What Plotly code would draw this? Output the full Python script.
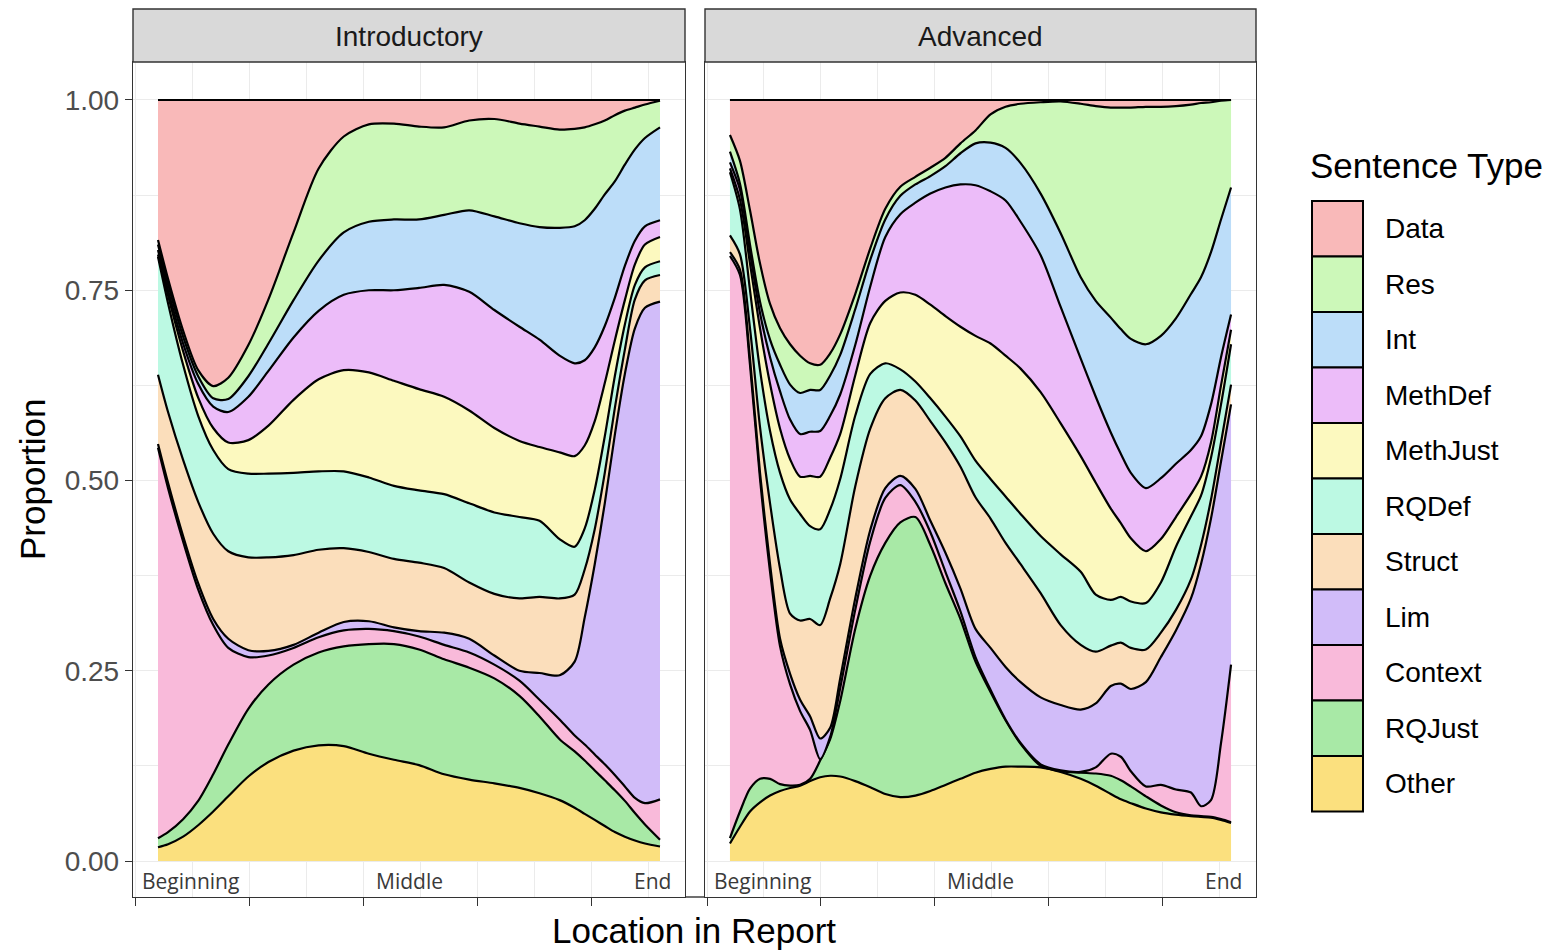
import numpy as np
import plotly.graph_objects as go

# ---------------- data (upper edge of each stacked layer) ----------------
X_INTRO = [0, 0.02, 0.05, 0.08, 0.11, 0.14, 0.18, 0.22, 0.27, 0.32, 0.37, 0.42, 0.47, 0.52, 0.57,
           0.62, 0.67, 0.72, 0.76, 0.8, 0.83, 0.85, 0.87, 0.89, 0.91, 0.93, 0.95, 0.97, 1.0]

INTRO_RES_TOP = [0.816, 0.765, 0.697, 0.645, 0.624, 0.635, 0.678, 0.738, 0.826, 0.91, 0.952, 0.968, 0.969, 0.965, 0.964,
                 0.973, 0.975, 0.969, 0.965, 0.961, 0.962, 0.964, 0.968, 0.973, 0.98, 0.986, 0.99, 0.994, 0.999]
INTRO_INT_TOP = [0.81, 0.758, 0.689, 0.637, 0.608, 0.607, 0.637, 0.68, 0.737, 0.789, 0.826, 0.84, 0.843, 0.843, 0.849,
                 0.855, 0.847, 0.838, 0.833, 0.832, 0.834, 0.842, 0.857, 0.876, 0.893, 0.915, 0.935, 0.95, 0.964]
INTRO_METHDEF_TOP = [0.803, 0.75, 0.68, 0.627, 0.597, 0.59, 0.61, 0.644, 0.688, 0.723, 0.744, 0.75, 0.75, 0.753, 0.757,
                     0.748, 0.724, 0.702, 0.685, 0.664, 0.654, 0.658, 0.675, 0.703, 0.74, 0.782, 0.815, 0.834, 0.842]
INTRO_METHJUST_TOP = [0.797, 0.743, 0.67, 0.609, 0.569, 0.55, 0.553, 0.572, 0.606, 0.633, 0.645, 0.642, 0.631, 0.62, 0.61,
                      0.592, 0.569, 0.552, 0.544, 0.537, 0.532, 0.546, 0.578, 0.628, 0.684, 0.737, 0.784, 0.81, 0.82]
INTRO_RQDEF_TOP = [0.794, 0.733, 0.652, 0.585, 0.54, 0.515, 0.509, 0.509, 0.51, 0.512, 0.512, 0.504, 0.493, 0.487, 0.482,
                   0.47, 0.458, 0.452, 0.447, 0.423, 0.413, 0.437, 0.488, 0.558, 0.637, 0.705, 0.757, 0.78, 0.788]
INTRO_STRUCT_TOP = [0.639, 0.59, 0.527, 0.472, 0.43, 0.407, 0.399, 0.399, 0.402, 0.409, 0.411, 0.406, 0.397, 0.392, 0.385,
                    0.366, 0.351, 0.345, 0.347, 0.345, 0.35, 0.383, 0.436, 0.51, 0.595, 0.672, 0.738, 0.763, 0.77]
INTRO_LIM_TOP = [0.548, 0.497, 0.427, 0.365, 0.318, 0.292, 0.277, 0.276, 0.284, 0.3, 0.314, 0.315, 0.307, 0.302, 0.3,
                 0.292, 0.27, 0.25, 0.247, 0.244, 0.262, 0.32, 0.39, 0.47, 0.56, 0.64, 0.7, 0.727, 0.735]
INTRO_CONTEXT_TOP = [0.543, 0.49, 0.42, 0.357, 0.31, 0.28, 0.268, 0.27, 0.28, 0.294, 0.303, 0.305, 0.302, 0.295, 0.284,
                     0.274, 0.258, 0.237, 0.212, 0.186, 0.165, 0.153, 0.14, 0.127, 0.113, 0.098, 0.083, 0.076, 0.081]
INTRO_RQJUST_TOP = [0.03, 0.038, 0.055, 0.079, 0.114, 0.153, 0.2, 0.232, 0.258, 0.274, 0.282, 0.285, 0.285, 0.278, 0.265,
                    0.254, 0.24, 0.217, 0.19, 0.16, 0.144, 0.132, 0.119, 0.106, 0.093, 0.079, 0.063, 0.048, 0.028]
INTRO_OTHER_TOP = [0.018, 0.022, 0.032, 0.047, 0.065, 0.085, 0.111, 0.13, 0.145, 0.152, 0.151, 0.141, 0.133, 0.126, 0.114,
                   0.107, 0.102, 0.096, 0.089, 0.08, 0.07, 0.062, 0.054, 0.046, 0.038, 0.032, 0.027, 0.023, 0.019]

X_ADV = [0, 0.02, 0.04, 0.06, 0.08, 0.1, 0.12, 0.14, 0.16, 0.18, 0.2, 0.22, 0.25, 0.28, 0.31, 0.34, 0.37, 0.4, 0.43,
         0.46, 0.49, 0.52, 0.55, 0.58, 0.62, 0.66, 0.7, 0.73, 0.76, 0.78, 0.8, 0.83, 0.86, 0.89, 0.92, 0.94, 0.96, 0.98, 1.0]

ADV_RES_TOP = [0.954, 0.92, 0.855, 0.785, 0.732, 0.7, 0.679, 0.664, 0.654, 0.652, 0.667, 0.692, 0.745, 0.805, 0.857, 0.886,
               0.899, 0.911, 0.924, 0.943, 0.96, 0.981, 0.991, 0.995, 0.997, 0.998, 0.995, 0.992, 0.99, 0.99, 0.99, 0.991,
               0.991, 0.992, 0.994, 0.996, 0.997, 0.999, 1.0]
ADV_INT_TOP = [0.932, 0.89, 0.81, 0.735, 0.685, 0.652, 0.626, 0.615, 0.619, 0.619, 0.638, 0.665, 0.725, 0.79, 0.843, 0.874,
               0.889, 0.9, 0.913, 0.93, 0.943, 0.944, 0.937, 0.917, 0.877, 0.825, 0.767, 0.736, 0.714, 0.699, 0.686, 0.679,
               0.69, 0.713, 0.745, 0.767, 0.8, 0.843, 0.885]
ADV_METHDEF_TOP = [0.918, 0.882, 0.8, 0.72, 0.662, 0.617, 0.58, 0.561, 0.564, 0.565, 0.585, 0.613, 0.678, 0.755, 0.82, 0.85,
                   0.865, 0.877, 0.885, 0.889, 0.888, 0.88, 0.868, 0.84, 0.796, 0.728, 0.66, 0.61, 0.563, 0.535, 0.51, 0.49,
                   0.503, 0.522, 0.54, 0.558, 0.6, 0.662, 0.718]
ADV_METHJUST_TOP = [0.91, 0.869, 0.785, 0.7, 0.627, 0.568, 0.528, 0.505, 0.506, 0.505, 0.53, 0.561, 0.638, 0.707, 0.736,
                    0.747, 0.744, 0.731, 0.716, 0.702, 0.69, 0.68, 0.664, 0.647, 0.616, 0.575, 0.532, 0.497, 0.463, 0.444,
                    0.424, 0.407, 0.423, 0.452, 0.482, 0.505, 0.55, 0.625, 0.698]
ADV_RQDEF_TOP = [0.905, 0.856, 0.75, 0.645, 0.565, 0.51, 0.475, 0.456, 0.44, 0.436, 0.462, 0.502, 0.585, 0.64, 0.654, 0.646,
                 0.63, 0.608, 0.584, 0.558, 0.526, 0.502, 0.479, 0.456, 0.427, 0.403, 0.38, 0.35, 0.343, 0.347, 0.341,
                 0.339, 0.366, 0.413, 0.453, 0.48, 0.53, 0.6, 0.679]
ADV_STRUCT_TOP = [0.822, 0.797, 0.7, 0.57, 0.47, 0.384, 0.325, 0.316, 0.318, 0.31, 0.345, 0.39, 0.492, 0.568, 0.608, 0.619,
                  0.605, 0.578, 0.55, 0.518, 0.478, 0.45, 0.418, 0.39, 0.352, 0.31, 0.284, 0.275, 0.283, 0.287, 0.28,
                  0.278, 0.3, 0.33, 0.37, 0.415, 0.475, 0.55, 0.626]
ADV_LIM_TOP = [0.8, 0.777, 0.66, 0.51, 0.39, 0.292, 0.246, 0.212, 0.19, 0.161, 0.175, 0.24, 0.345, 0.435, 0.49, 0.506,
               0.489, 0.447, 0.405, 0.358, 0.305, 0.28, 0.255, 0.235, 0.215, 0.205, 0.199, 0.207, 0.23, 0.233, 0.226,
               0.235, 0.268, 0.303, 0.345, 0.39, 0.45, 0.525, 0.6]
ADV_CONTEXT_TOP = [0.795, 0.77, 0.652, 0.502, 0.38, 0.282, 0.232, 0.197, 0.172, 0.134, 0.163, 0.227, 0.33, 0.42, 0.477,
                   0.494, 0.472, 0.432, 0.38, 0.328, 0.268, 0.225, 0.186, 0.155, 0.127, 0.119, 0.117, 0.123, 0.141, 0.137,
                   0.118, 0.098, 0.1, 0.094, 0.09, 0.072, 0.08, 0.155, 0.258]
ADV_RQJUST_TOP = [0.03, 0.065, 0.095, 0.108, 0.108, 0.101, 0.099, 0.1, 0.108, 0.132, 0.16, 0.21, 0.305, 0.375, 0.418,
                  0.445, 0.452, 0.415, 0.365, 0.318, 0.262, 0.222, 0.185, 0.154, 0.125, 0.118, 0.116, 0.115, 0.112, 0.106,
                  0.098, 0.085, 0.073, 0.064, 0.06, 0.059, 0.058, 0.055, 0.051]
ADV_OTHER_TOP = [0.023, 0.045, 0.065, 0.077, 0.086, 0.092, 0.096, 0.099, 0.105, 0.11, 0.112, 0.111, 0.105, 0.097, 0.088,
                 0.084, 0.086, 0.092, 0.1, 0.108, 0.116, 0.121, 0.124, 0.124, 0.123, 0.117, 0.108, 0.099, 0.088, 0.081,
                 0.076, 0.069, 0.064, 0.061, 0.059, 0.058, 0.057, 0.054, 0.05]

LEGEND_TYPES = ["Data", "Res", "Int", "MethDef", "MethJust", "RQDef", "Struct", "Lim", "Context", "RQJust", "Other"]
COLORS = {
    "Data": "#F9B9B9", "Res": "#CCF8B9", "Int": "#BCDDF9", "MethDef": "#ECBCF9", "MethJust": "#FCF9BF",
    "RQDef": "#BCF9E3", "Struct": "#FBDEBB", "Lim": "#D1BCF9", "Context": "#F9BADA", "RQJust": "#A8E9A6",
    "Other": "#FBE07E",
}
PANELS = ["Introductory", "Advanced"]
X_LABELS = ["Beginning", "Middle", "End"]

# ---------------- figure ----------------
W, H = 1557, 950
OFF = 8  # the page body adds an 8px margin; compensate so positions match the reference
FONT = "Liberation Sans, Arial, Helvetica, sans-serif"


def fx(p):
    return (p - OFF) / W


def fy(p):
    return 1 - (p - OFF) / H


fig = go.Figure()

panel_data = [
    ("x", "y", X_INTRO, [("Other", INTRO_OTHER_TOP), ("RQJust", INTRO_RQJUST_TOP), ("Context", INTRO_CONTEXT_TOP),
                         ("Lim", INTRO_LIM_TOP), ("Struct", INTRO_STRUCT_TOP), ("RQDef", INTRO_RQDEF_TOP),
                         ("MethJust", INTRO_METHJUST_TOP), ("MethDef", INTRO_METHDEF_TOP), ("Int", INTRO_INT_TOP),
                         ("Res", INTRO_RES_TOP), ("Data", None)]),
    ("x2", "y2", X_ADV, [("Other", ADV_OTHER_TOP), ("RQJust", ADV_RQJUST_TOP), ("Context", ADV_CONTEXT_TOP),
                         ("Lim", ADV_LIM_TOP), ("Struct", ADV_STRUCT_TOP), ("RQDef", ADV_RQDEF_TOP),
                         ("MethJust", ADV_METHJUST_TOP), ("MethDef", ADV_METHDEF_TOP), ("Int", ADV_INT_TOP),
                         ("Res", ADV_RES_TOP), ("Data", None)]),
]

for xa, ya, xs, layers in panel_data:
    for i, (name, top) in enumerate(layers):
        yv = np.ones(len(xs)) if top is None else np.array(top)
        fig.add_trace(go.Scatter(
            x=xs, y=yv, mode="lines", name=name, showlegend=False,
            line=dict(color="black", width=2.2, shape="spline", smoothing=0.8),
            fill="tozeroy" if i == 0 else "tonexty", fillcolor=COLORS[name],
            xaxis=xa, yaxis=ya, hoverinfo="x+y+name",
        ))

XR = [-0.0498, 1.0498]
YR = [-0.0473, 1.0499]
GRID = "#EBEBEB"
AX = "#333333"

xcommon = dict(range=XR, showline=True, mirror=True, linecolor=AX, linewidth=1.4, zeroline=False,
               tickmode="linear", tick0=-0.0458, dtick=0.2272, ticks="outside", ticklen=8, tickwidth=1.4,
               tickcolor=AX, showticklabels=False, showgrid=True, gridcolor=GRID, gridwidth=1.4,
               minor=dict(tickmode="linear", tick0=-0.0458, dtick=0.1136, showgrid=True, gridcolor=GRID,
                          gridwidth=0.7, ticks=""))
ycommon = dict(range=YR, showline=True, mirror=True, linecolor=AX, linewidth=1.4, zeroline=False,
               tickmode="linear", tick0=0, dtick=0.25, tickformat=".2f", showgrid=True, gridcolor=GRID,
               gridwidth=1.4, minor=dict(tickmode="linear", tick0=0, dtick=0.125, showgrid=True, gridcolor=GRID,
                                         gridwidth=0.7, ticks=""))

ydom = [fy(897), fy(62)]
fig.update_layout(
    width=W, height=H, margin=dict(l=0, r=0, t=0, b=0),
    paper_bgcolor="white", plot_bgcolor="white",
    font=dict(family=FONT, color="black"),
    xaxis=dict(domain=[fx(133), fx(685)], anchor="y", **xcommon),
    xaxis2=dict(domain=[fx(705), fx(1256)], anchor="y2", **xcommon),
    yaxis=dict(domain=ydom, anchor="x", ticks="outside", ticklen=7, tickwidth=1.4, tickcolor=AX,
               tickfont=dict(size=28, color="#4D4D4D", family=FONT), **ycommon),
    yaxis2=dict(domain=ydom, anchor="x2", ticks="", showticklabels=False, **ycommon),
    showlegend=False,
)

shapes = []
annotations = []

# strips
for (l, r), label in zip([(133, 685), (705, 1256)], PANELS):
    shapes.append(dict(type="rect", xref="paper", yref="paper", x0=fx(l), x1=fx(r), y0=fy(62), y1=fy(9),
                       fillcolor="#D9D9D9", line=dict(color=AX, width=1.4), layer="above"))
    annotations.append(dict(xref="paper", yref="paper", x=fx((l + r) / 2), y=fy(36), text=label, showarrow=False,
                            xanchor="center", yanchor="middle", font=dict(size=28, color="#1A1A1A", family=FONT)))

# bottom line through the gap between panels
shapes.append(dict(type="line", xref="paper", yref="paper", x0=fx(685), x1=fx(705), y0=fy(897), y1=fy(897),
                   line=dict(color=AX, width=1.4)))

# location labels inside panels
for xr in ["x", "x2"]:
    for lab, xv, anc in zip(X_LABELS, [-0.036, 0.5, 1.026], ["left", "center", "right"]):
        annotations.append(dict(xref=xr, yref="y", x=xv, y=-0.026, text=lab, showarrow=False, xanchor=anc,
                                yanchor="middle",
                                font=dict(size=21, color="#3A3A3A", family="Open Sans, Noto Sans, sans-serif")))

# axis titles
annotations.append(dict(xref="paper", yref="paper", x=fx(32), y=fy(480), text="Proportion", textangle=-90,
                        showarrow=False, xanchor="center", yanchor="middle", font=dict(size=35, color="black")))
annotations.append(dict(xref="paper", yref="paper", x=fx(694), y=fy(930), text="Location in Report",
                        showarrow=False, xanchor="center", yanchor="middle", font=dict(size=35, color="black")))

# legend (drawn manually to get ggplot-style keys)
annotations.append(dict(xref="paper", yref="paper", x=fx(1308), y=fy(166), text="Sentence Type", showarrow=False,
                        xanchor="left", yanchor="middle", font=dict(size=35, color="black")))
KEY_TOP, KEY_H = 201, 55.5
for i, name in enumerate(LEGEND_TYPES):
    t = KEY_TOP + i * KEY_H
    shapes.append(dict(type="rect", xref="paper", yref="paper", x0=fx(1312), x1=fx(1363), y0=fy(t + KEY_H),
                       y1=fy(t), fillcolor=COLORS[name], line=dict(color="black", width=2)))
    annotations.append(dict(xref="paper", yref="paper", x=fx(1383), y=fy(t + KEY_H / 2), text=name,
                            showarrow=False, xanchor="left", yanchor="middle", font=dict(size=28, color="black")))

fig.update_layout(shapes=shapes, annotations=annotations)
fig.write_html("out.html")
